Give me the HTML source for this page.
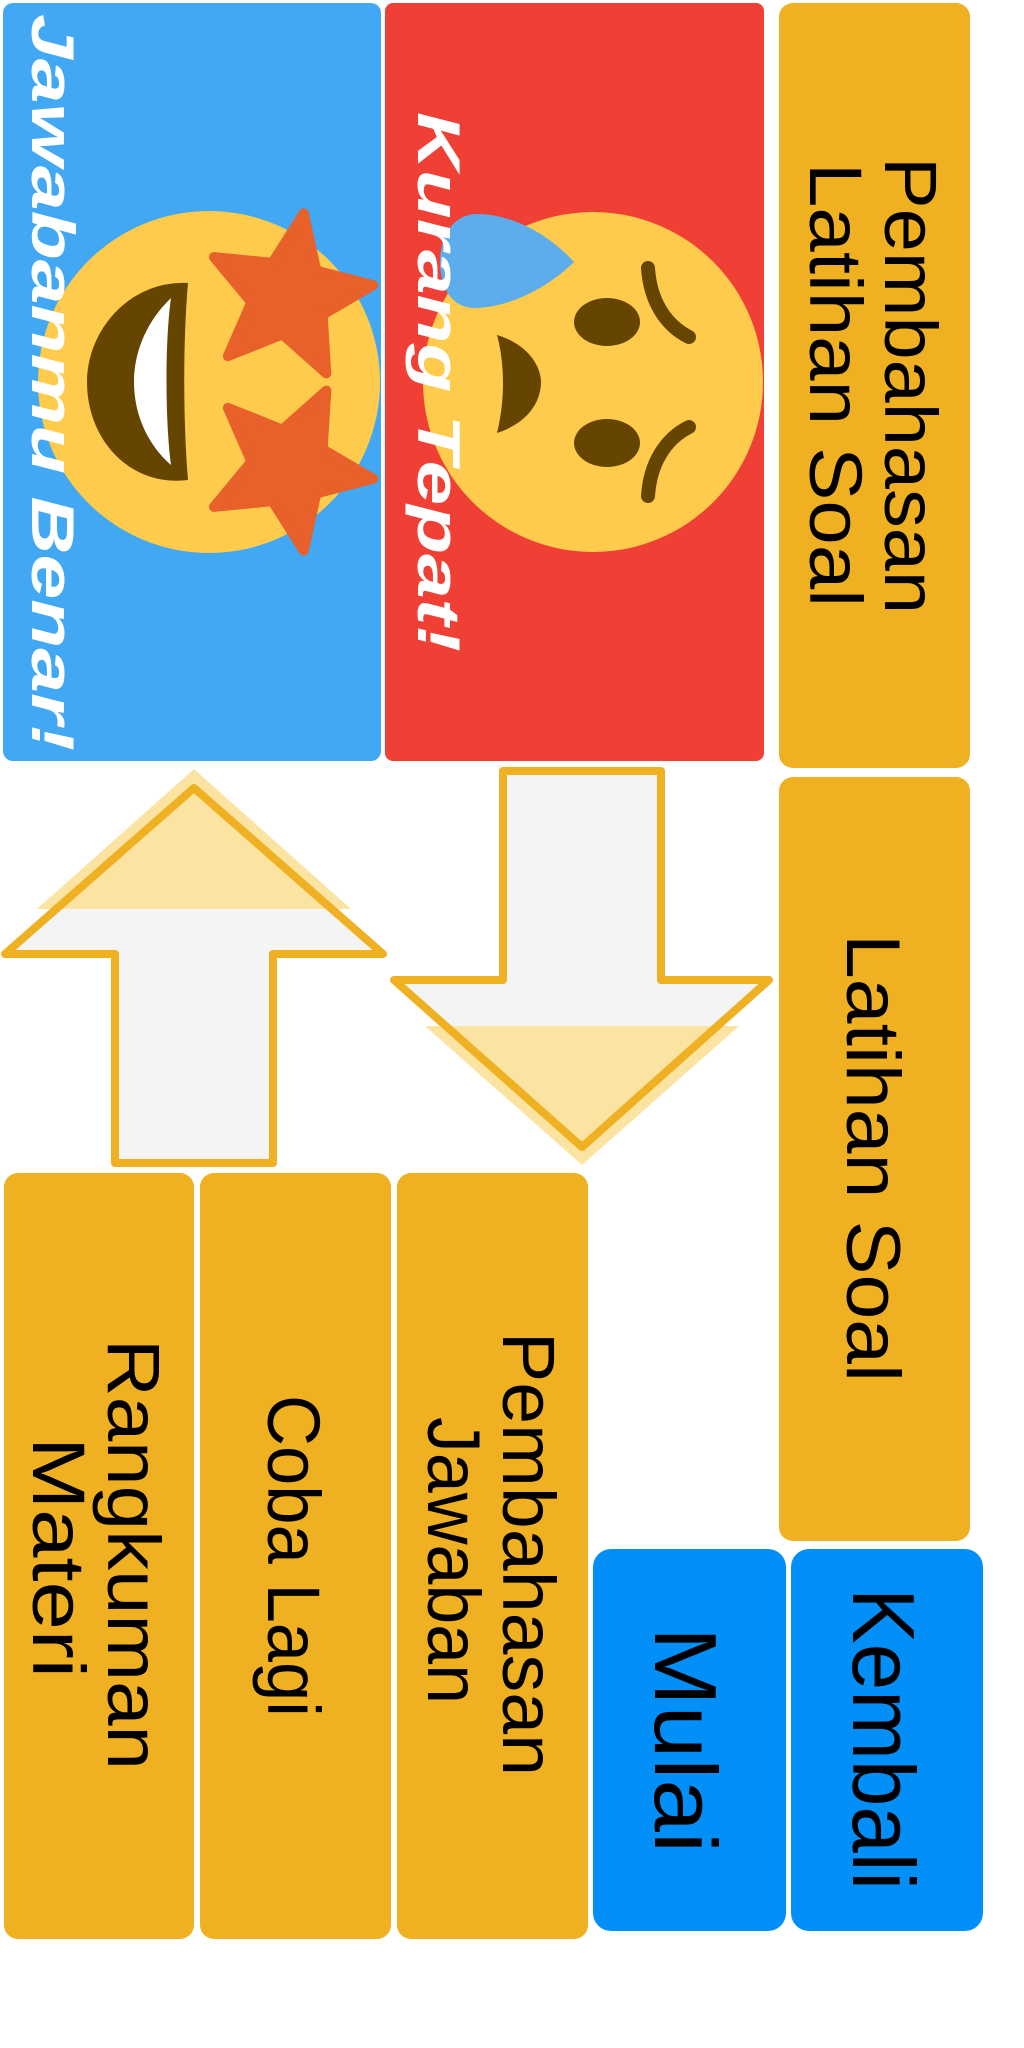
<!DOCTYPE html>
<html><head><meta charset="utf-8"><style>
html,body{margin:0;padding:0;background:#fff;}
svg{display:block;}
.t{font-family:"Liberation Sans",sans-serif;fill:#000;}
.c{font-family:"Liberation Sans",sans-serif;font-style:italic;font-weight:bold;fill:#fff;}
</style></head><body>
<svg width="1024" height="2048" viewBox="0 0 1024 2048" xmlns="http://www.w3.org/2000/svg">
<rect x="3" y="3" width="378" height="758" rx="10" fill="#42A8F4"/>
<rect x="385" y="3" width="379" height="758" rx="8" fill="#F04035"/>
<rect x="779" y="3" width="191" height="765" rx="14" fill="#EFB022"/>
<rect x="779" y="777" width="191" height="764" rx="14" fill="#EFB022"/>
<rect x="593" y="1549" width="193" height="382" rx="18" fill="#038FF8"/>
<rect x="791" y="1549" width="192" height="382" rx="18" fill="#038FF8"/>
<rect x="4" y="1173" width="190" height="766" rx="14" fill="#EFB022"/>
<rect x="200" y="1173" width="191" height="766" rx="14" fill="#EFB022"/>
<rect x="397" y="1173" width="191" height="766" rx="14" fill="#EFB022"/>

<circle cx="209" cy="382" r="171" fill="#FFCB4C"/>
<path d="M188,283 C130,280 87,330 87,382 C87,440 130,487 188,480 C183,420 183,340 188,283 Z" fill="#664500"/>
<path d="M171,298 C148,320 134,350 134,382 C134,415 148,445 171,465 C165,420 165,340 171,298 Z" fill="#fff"/>
<polygon points="303.8,213.3 316.3,270.6 373.2,285.2 322.6,314.8 326.3,373.4 282.4,334.4 227.9,356.1 251.4,302.3 213.9,257.1 272.4,262.8" fill="#E8602A" stroke="#E8602A" stroke-width="10" stroke-linejoin="round"/>
<polygon points="303.8,550.7 316.3,493.4 373.2,478.8 322.6,449.2 326.3,390.6 282.4,429.6 227.9,407.9 251.4,461.7 213.9,506.9 272.4,501.2" fill="#E8602A" stroke="#E8602A" stroke-width="10" stroke-linejoin="round"/>

<circle cx="593" cy="382" r="170" fill="#FFCB4C"/>
<ellipse cx="607" cy="322" rx="33" ry="24" fill="#664500"/>
<ellipse cx="607" cy="443" rx="33" ry="24" fill="#664500"/>
<path d="M648,268 C650,300 665,325 689,337" stroke="#664500" stroke-width="14" fill="none" stroke-linecap="round"/>
<path d="M648,496 C650,464 665,439 689,427" stroke="#664500" stroke-width="14" fill="none" stroke-linecap="round"/>
<path d="M497,335 C530,345 541,368 541,382 C541,400 530,422 497,433 C505,400 505,365 497,335 Z" fill="#664500"/>
<path d="M574,262 C540,225 500,213 475,214 C450,216 440,240 440,262 C440,285 450,308 475,308 C500,308 540,295 574,262 Z" fill="#5DADEC"/>

<text class="c" font-size="60" transform="translate(32,14) rotate(90)" textLength="737" lengthAdjust="spacingAndGlyphs">Jawabanmu Benar!</text>
<text class="c" font-size="60" transform="translate(418,112) rotate(90)" textLength="540" lengthAdjust="spacingAndGlyphs">Kurang Tepat!</text>

<polygon points="194,788 383,954 273,954 273,1163 115,1163 115,954 5,954" fill="#F4F4F4"/>
<polygon points="194,769 351,909 37,909" fill="#FBE3A1"/>
<polygon points="194,788 383,954 273,954 273,1163 115,1163 115,954 5,954" fill="none" stroke="#EFB022" stroke-width="8" stroke-linejoin="round"/>

<polygon points="503,771 661,771 661,980 769,980 582,1147 394,980 503,980" fill="#F4F4F4"/>
<polygon points="425,1026 739,1026 582,1165" fill="#FBE3A1"/>
<polygon points="503,771 661,771 661,980 769,980 582,1147 394,980 503,980" fill="none" stroke="#EFB022" stroke-width="8" stroke-linejoin="round"/>

<text class="t" font-size="74" transform="translate(885,157) rotate(90)" textLength="457" lengthAdjust="spacingAndGlyphs">Pembahasan</text>
<text class="t" font-size="74" transform="translate(810,163) rotate(90)" textLength="444" lengthAdjust="spacingAndGlyphs">Latihan Soal</text>
<text class="t" font-size="76" transform="translate(847,934) rotate(90)" textLength="448" lengthAdjust="spacingAndGlyphs">Latihan Soal</text>
<text class="t" font-size="88" transform="translate(853,1588) rotate(90)" textLength="302" lengthAdjust="spacingAndGlyphs">Kembali</text>
<text class="t" font-size="88" transform="translate(655,1627) rotate(90)" textLength="226" lengthAdjust="spacingAndGlyphs">Mulai</text>
<text class="t" font-size="74" transform="translate(503,1332) rotate(90)" textLength="444" lengthAdjust="spacingAndGlyphs">Pembahasan</text>
<text class="t" font-size="74" transform="translate(428,1417) rotate(90)" textLength="287" lengthAdjust="spacingAndGlyphs">Jawaban</text>
<text class="t" font-size="74" transform="translate(268,1395) rotate(90)" textLength="322" lengthAdjust="spacingAndGlyphs">Coba Lagi</text>
<text class="t" font-size="74" transform="translate(108,1339) rotate(90)" textLength="431" lengthAdjust="spacingAndGlyphs">Rangkuman</text>
<text class="t" font-size="74" transform="translate(33,1437) rotate(90)" textLength="241" lengthAdjust="spacingAndGlyphs">Materi</text>
</svg>
</body></html>
